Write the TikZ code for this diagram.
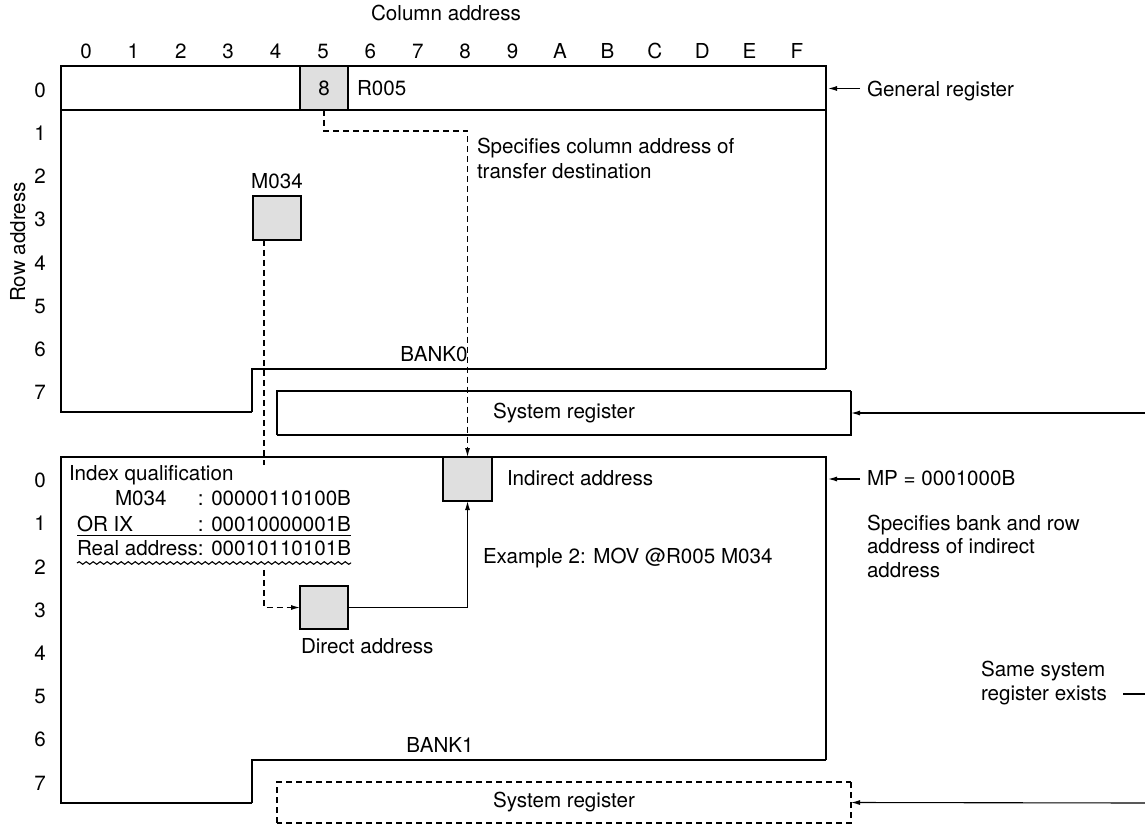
\documentclass[tikz,border=0pt]{standalone}
\usepackage{fontspec}
\setmainfont{TeX Gyre Heros}
\usetikzlibrary{arrows.meta,decorations.pathmorphing}
\begin{document}
\begin{tikzpicture}[x=1pt,y=-1pt,
  txt/.style={inner sep=0pt,outer sep=0pt,font=\fontsize{20.6}{24}\selectfont},
  thk/.style={line width=2.8pt,line join=miter},
  mid/.style={line width=1.5pt},
  thn/.style={line width=1.1pt},
  cell/.style={draw,line width=1.1pt,fill=gray!25,minimum width=48pt,minimum height=44pt,inner sep=0pt,outer sep=0pt,font=\fontsize{20.6}{24}\selectfont},
  dsh/.style={line width=1.1pt,dash pattern=on 6pt off 4pt},
  tip/.style={-{Latex[length=9pt,width=5pt]}},
  sysbox/.style={minimum width=574pt,inner sep=0pt,outer sep=0pt,font=\fontsize{20.6}{24}\selectfont},
]
\useasboundingbox (0,0) rectangle (1145,826);

% headings
\node[txt,anchor=base] (coladdr) at (446,21) {Column address};
\foreach \c [count=\i from 0] in {0,1,2,3,4,5,6,7,8,9,A,B,C,D,E,F}
  \node[txt,anchor=base] (col\i) at ({86+47.4*\i},58.5) {\c};
\foreach \i in {0,...,7}
  \node[txt,anchor=base] (rt\i) at (40,{97.2+43.2*\i}) {\i};
\foreach \i in {0,...,7}
  \node[txt,anchor=base] (rb\i) at (40,{487.7+43.2*\i}) {\i};
\node[txt,rotate=90,anchor=base] (rowaddr) at (25,242) {Row address};

% shaded cells
\node[cell] (r005) at (324,88) {8};
\node[cell] (m034) at (277,218) {};
\node[cell,minimum width=49pt] (indirect) at (467.5,479) {};
\node[cell,minimum height=43pt] (direct) at (324,607.5) {};

% bank 0 outline
\draw[thk] (252,412) -- (61,412) -- (61,66) -- (826,66) -- (826,369);
\draw[mid] (826,369) -- (252,369) -- (252,412);
\draw[mid] (61,110) -- (826,110);
\draw[thn] (r005.north west) -- (r005.south west) (r005.north east) -- (r005.south east);
\node[txt,anchor=base west] (r005lab) at (357,96) {R005};
\node[txt,anchor=base] (m034lab) at (277,189) {M034};
\node[txt,anchor=base] (bank0) at (434,361) {BANK0};

% bank 1 outline
\draw[thk] (252,803) -- (61,803) -- (61,457) -- (826,457) -- (826,760);
\draw[mid] (826,760) -- (252,760) -- (252,803);
\draw[thn] (indirect.south west) -- (indirect.north west) (indirect.north east) -- (indirect.south east);
\node[txt,anchor=base] (bank1) at (440,752) {BANK1};

% system registers
\node[sysbox,minimum height=44pt] (sys0) at (564,413) {System register};
\draw[thn] (sys0.south west) -- (sys0.north west) -- (sys0.north east);
\draw[line width=2.6pt] (sys0.north east) -- (sys0.south east) -- (sys0.south west);
\node[sysbox,minimum height=41pt] (sys1) at (564,802.5) {System register};
\draw[dsh] (sys1.south west) -- (sys1.north west) -- (sys1.north east);
\draw[dsh,line width=2.6pt] (sys1.north east) -- (sys1.south east) -- (sys1.south west);

% connectors
\draw[dsh,tip] (r005.south) -- ([yshift=-21pt]r005.south) -| (indirect.north);
\draw[dsh,tip] ([xshift=-13pt]m034.south) |- (direct.west);
\draw[thn,tip] (direct.east) -| (indirect.south);

% index qualification block
\fill[white] (66,465) rectangle (356,568);
\node[txt,anchor=base west] (iq) at (69,480) {Index qualification};
\node[txt,anchor=base west] (iqa) at (115,505) {M034};
\node[txt,anchor=base east] (iqb) at (351,505) {: 00000110100B};
\node[txt,anchor=base west] (iqc) at (77,531.5) {OR IX};
\node[txt,anchor=base east] (iqd) at (351,531.5) {: 00010000001B};
\node[txt,anchor=base west] (iqe) at (77,555) {Real address: 00010110101B};
\draw[thn] (77,535.5) -- (351,535.5);
\draw[thn,decorate,decoration={snake,segment length=7pt,amplitude=1.3pt}] (77,563) -- (351,563);

% labels inside
\node[txt,anchor=base west] (spc1) at (477,154) {Specifies column address of};
\node[txt,anchor=base west] (spc2) at (477,179) {transfer destination};
\node[txt,anchor=base west] (indlab) at (507,485) {Indirect address};
\node[txt,anchor=base west] (ex2) at (483,563) {Example 2: MOV @R005 M034};
\node[txt,anchor=base west] (dirlab) at (301,653) {Direct address};

% right side labels
\node[txt,anchor=base west] (genlab) at (867,96.7) {General register};
\coordinate (g1) at (860,88.5);
\coordinate (g0) at (828,88.5);
\draw[thn,tip] (g1) -- (g0);
\node[txt,anchor=base west] (mplab) at (867,485) {MP = 0001000B};
\coordinate (m1) at (860,479);
\coordinate (m0) at (828,479);
\draw[thn,tip] (m1) -- (m0);
\node[txt,anchor=base west] (sb1) at (867,530) {Specifies bank and row};
\node[txt,anchor=base west] (sb2) at (867,553.5) {address of indirect};
\node[txt,anchor=base west] (sb3) at (867,577) {address};
\node[txt,anchor=base west] (ss1) at (981,676.5) {Same system};
\node[txt,anchor=base west] (ss2) at (981,700.5) {register exists};
\coordinate (s0) at (1123,694);
\coordinate (s1) at (1145,694);
\draw[thn] (s0) -- (s1);
\coordinate (e0) at (1145,413);
\coordinate (e1) at (1145,803);
\draw[thn,tip] (e0) -- (sys0.east);
\draw[thn,tip] (e1) -- (sys1.east);
\end{tikzpicture}
\end{document}
